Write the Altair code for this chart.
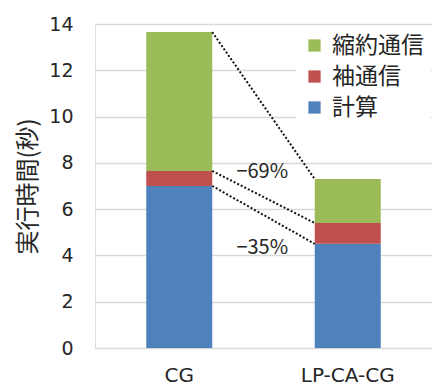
import altair as alt
import pandas as pd

categories = ["CG", "LP-CA-CG"]
series = ["計算", "袖通信", "縮約通信"]
compute = [7.0, 4.5]
halo = [0.65, 0.9]
reduce_ = [6.0, 1.9]
colors = ["#4f81bd", "#c0504d", "#9bbb59"]
pct_labels = ["−69%", "−35%"]
pct_y = [7.6, 4.3]

FONT = "Noto Sans CJK JP"
LATIN = "DejaVu Sans"

rows = []
for i, c in enumerate(categories):
    for j, (s, v) in enumerate(zip(series, [compute[i], halo[i], reduce_[i]])):
        rows.append({"cat": c, "series": s, "value": v, "ord": j})
df = pd.DataFrame(rows)

# connector lines between cumulative levels
lines = []
cum = []
for i in range(2):
    a = compute[i]
    b = a + halo[i]
    t = b + reduce_[i]
    cum.append([t, b, a])
for k in range(3):
    lines.append({"from": categories[0], "to": categories[1], "y1": cum[0][k], "y2": cum[1][k]})
ldf = pd.DataFrame(lines)

tdf = pd.DataFrame({"cat": [categories[0]] * 2, "label": pct_labels, "y": pct_y})

xscale = alt.Scale(domain=categories, paddingInner=0, paddingOuter=0)
yscale = alt.Scale(domain=[0, 14])

bars = alt.Chart(df).mark_bar(size=66).encode(
    x=alt.X("cat:N", scale=xscale, sort=categories,
            axis=alt.Axis(title=None, labelAngle=0, labelFontSize=20, labelColor="#262626",
                          labelPadding=17, ticks=False, domain=False, labelFont=LATIN)),
    y=alt.Y("value:Q", stack="zero", scale=yscale,
            axis=alt.Axis(title="実行時間(秒)", values=[0, 2, 4, 6, 8, 10, 12, 14],
                          grid=True, gridColor="#d9d9d9", gridWidth=1.5,
                          ticks=False, domain=False, labelFontSize=19, labelColor="#262626",
                          labelPadding=22, labelFont=LATIN, titleFont=FONT,
                          titleFontSize=24, titleFontWeight="normal", titleColor="#262626",
                          titlePadding=8)),
    color=alt.Color("series:N",
                    scale=alt.Scale(domain=["縮約通信", "袖通信", "計算"],
                                    range=[colors[2], colors[1], colors[0]]),
                    legend=alt.Legend(title=None, orient="none", legendX=201, legendY=3,
                                      symbolType="square", symbolSize=150,
                                      symbolStrokeWidth=0, labelFontSize=23,
                                      labelFont=FONT, labelColor="#262626",
                                      rowPadding=7, fillColor="white", padding=7,
                                      labelOffset=6, labelLimit=200)),
    order=alt.Order("ord:Q", sort="ascending"),
)

conn = alt.Chart(ldf).mark_rule(color="#111", strokeWidth=2, strokeDash=[2, 2],
                                 xOffset=33, x2Offset=-33).encode(
    x=alt.X("from:N", scale=xscale),
    x2="to:N",
    y=alt.Y("y1:Q", scale=yscale),
    y2="y2:Q",
)

txt = alt.Chart(tdf).mark_text(fontSize=20, font=FONT, color="#262626", xOffset=83,
                               align="center").encode(
    x=alt.X("cat:N", scale=xscale),
    y=alt.Y("y:Q", scale=yscale),
    text="label:N",
)

chart = alt.layer(bars, conn, txt).properties(
    width=337, height=324,
    padding={"left": 95, "top": 24, "right": 0, "bottom": 37},
    autosize=alt.AutoSizeParams(type="none"),
).configure_view(stroke=None).configure(background="white")

chart.save("out.html", embed_options={"renderer": "svg", "actions": False})
